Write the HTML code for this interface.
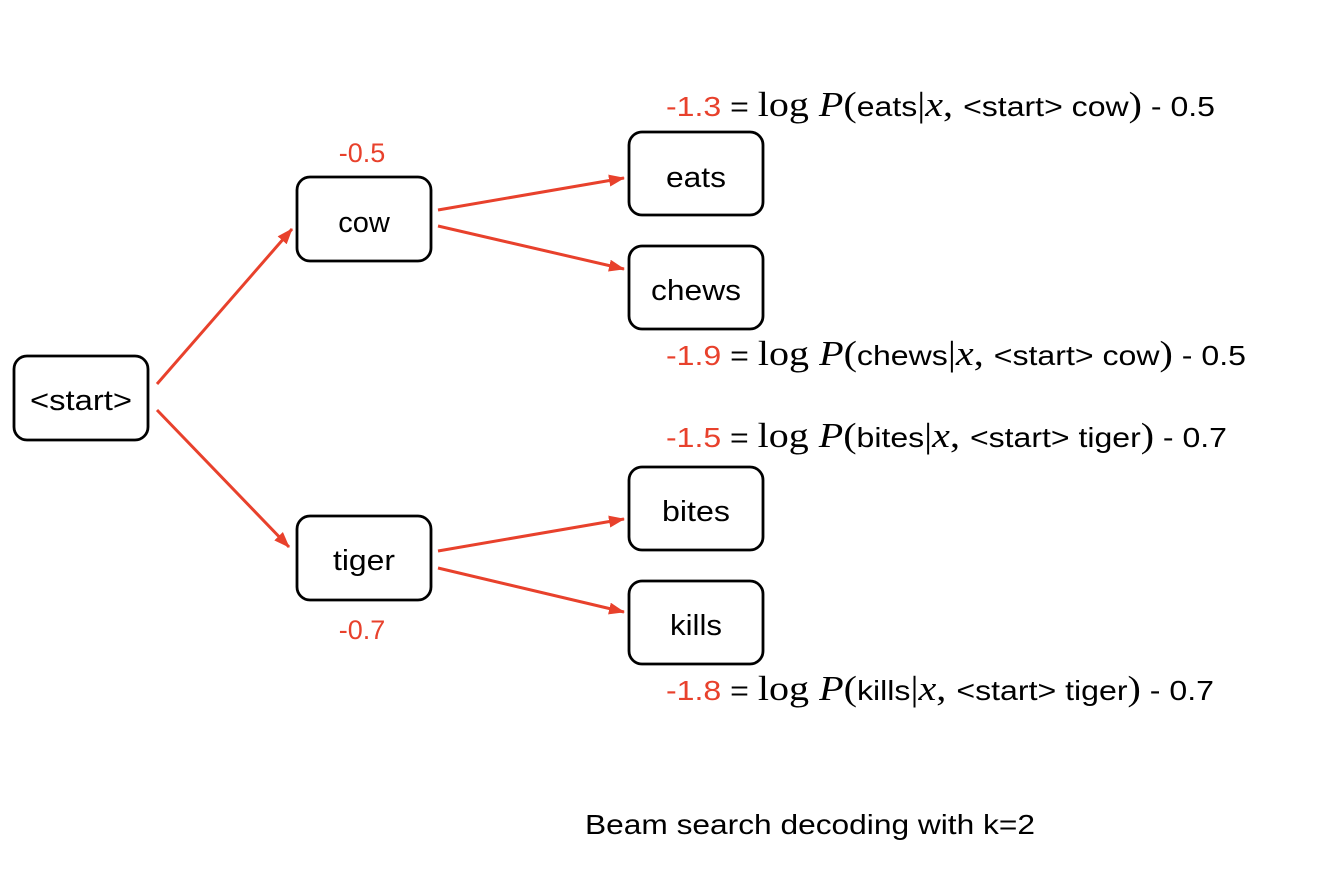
<!DOCTYPE html>
<html><head><meta charset="utf-8"><style>
html,body{margin:0;padding:0;background:#fff;}
svg{display:block;}
.n{font-family:"Liberation Sans",sans-serif;font-size:29px;fill:#000;}
.r{fill:#e8412c;}
.f{font-family:"Liberation Sans",sans-serif;font-size:28px;}
.s{font-family:"Liberation Serif",serif;font-size:35px;}
</style></head><body>
<svg width="1338" height="872" viewBox="0 0 1338 872">
<defs><marker id="a" markerWidth="16" markerHeight="12" refX="15" refY="6" orient="auto" markerUnits="userSpaceOnUse"><path d="M0,0 L16,6 L0,12 z" fill="#e8412c"/></marker></defs>
<g fill="none" stroke="#000" stroke-width="2.8">
<rect x="14" y="356" width="134" height="84" rx="13"/>
<rect x="297" y="177" width="134" height="84" rx="13"/>
<rect x="629" y="132" width="134" height="83" rx="13"/>
<rect x="629" y="246" width="134" height="83" rx="13"/>
<rect x="297" y="516" width="134" height="84" rx="13"/>
<rect x="629" y="467" width="134" height="83" rx="13"/>
<rect x="629" y="581" width="134" height="83" rx="13"/>
</g>
<g stroke="#e8412c" stroke-width="3" marker-end="url(#a)">
<line x1="157" y1="384" x2="292" y2="229"/>
<line x1="157" y1="410" x2="289" y2="547"/>
<line x1="438" y1="210" x2="624" y2="178"/>
<line x1="438" y1="226" x2="624" y2="269"/>
<line x1="438" y1="551" x2="624" y2="519"/>
<line x1="438" y1="568" x2="624" y2="612"/>
</g>
<g class="n" text-anchor="middle">
<text x="81" y="410" textLength="102" lengthAdjust="spacingAndGlyphs">&lt;start&gt;</text>
<text x="364" y="232">cow</text>
<text x="696" y="187" textLength="60" lengthAdjust="spacingAndGlyphs">eats</text>
<text x="696" y="300" textLength="90" lengthAdjust="spacingAndGlyphs">chews</text>
<text x="364" y="570" textLength="62" lengthAdjust="spacingAndGlyphs">tiger</text>
<text x="696" y="521" textLength="68" lengthAdjust="spacingAndGlyphs">bites</text>
<text x="696" y="635" textLength="52" lengthAdjust="spacingAndGlyphs">kills</text>
</g>
<g class="n r" text-anchor="middle" style="font-size:27px">
<text x="362" y="162">-0.5</text>
<text x="362" y="639">-0.7</text>
</g>
<g class="f">
<text x="666" y="116" textLength="549" lengthAdjust="spacingAndGlyphs"><tspan class="r">-1.3</tspan> = <tspan class="s">log </tspan><tspan class="s" font-style="italic">P</tspan><tspan class="s">(</tspan>eats<tspan class="s">|</tspan><tspan class="s" font-style="italic">x</tspan><tspan class="s">, </tspan>&lt;start&gt; cow<tspan class="s">)</tspan> - 0.5</text>
<text x="666" y="365" textLength="580" lengthAdjust="spacingAndGlyphs"><tspan class="r">-1.9</tspan> = <tspan class="s">log </tspan><tspan class="s" font-style="italic">P</tspan><tspan class="s">(</tspan>chews<tspan class="s">|</tspan><tspan class="s" font-style="italic">x</tspan><tspan class="s">, </tspan>&lt;start&gt; cow<tspan class="s">)</tspan> - 0.5</text>
<text x="666" y="447" textLength="561" lengthAdjust="spacingAndGlyphs"><tspan class="r">-1.5</tspan> = <tspan class="s">log </tspan><tspan class="s" font-style="italic">P</tspan><tspan class="s">(</tspan>bites<tspan class="s">|</tspan><tspan class="s" font-style="italic">x</tspan><tspan class="s">, </tspan>&lt;start&gt; tiger<tspan class="s">)</tspan> - 0.7</text>
<text x="666" y="700" textLength="548" lengthAdjust="spacingAndGlyphs"><tspan class="r">-1.8</tspan> = <tspan class="s">log </tspan><tspan class="s" font-style="italic">P</tspan><tspan class="s">(</tspan>kills<tspan class="s">|</tspan><tspan class="s" font-style="italic">x</tspan><tspan class="s">, </tspan>&lt;start&gt; tiger<tspan class="s">)</tspan> - 0.7</text>
</g>
<text class="n" x="585" y="834" style="font-size:28px" textLength="450" lengthAdjust="spacingAndGlyphs">Beam search decoding with k=2</text>
</svg>
</body></html>
